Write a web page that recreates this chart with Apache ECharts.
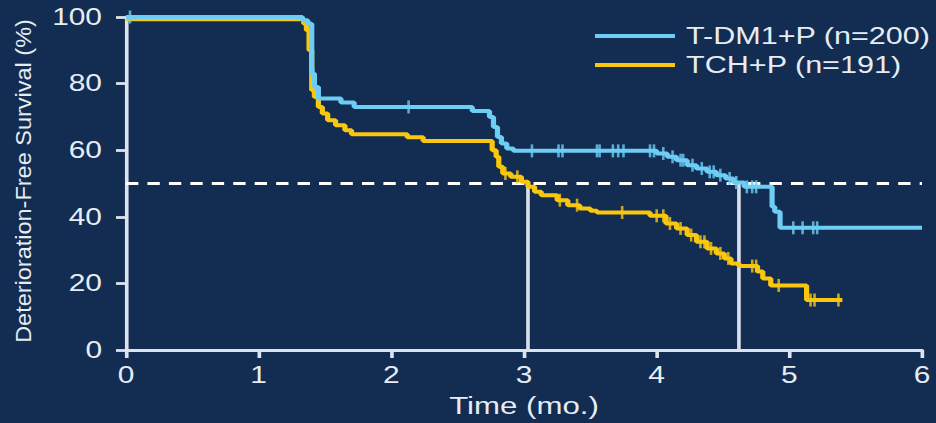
<!DOCTYPE html>
<html>
<head>
<meta charset="utf-8">
<script src="https://cdn.jsdelivr.net/npm/echarts@6/dist/echarts.min.js"></script>
<style>
html,body{margin:0;padding:0;background:#132c52;overflow:hidden;width:936px;height:423px;}
/* the reference slide is horizontally stretched; reproduce that stretch */
#chart{width:720px;height:423px;transform:scaleX(1.3);transform-origin:0 0;}
</style>
</head>
<body>
<div id="chart"></div>
<script>
// ---- data ----
const seriesNames = ['T-DM1+P (n=200)', 'TCH+P (n=191)'];
const xTickLabels = ['0','1','2','3','4','5','6'];
const yTickLabels = ['0','20','40','60','80','100'];
const xAxisTitle = 'Time (mo.)';
const yAxisTitle = 'Deterioration-Free Survival (%)';

// Kaplan-Meier steps: T-DM1+P
const blueTime = [0, 1.33, 1.37, 1.40, 1.42, 1.45, 1.62, 1.72, 2.61, 2.74, 2.77, 2.80, 2.83, 2.87, 2.92, 4.00, 4.08, 4.15, 4.23, 4.30, 4.38, 4.45, 4.52, 4.58, 4.66, 4.87, 4.89, 4.93, 6.00];
const blueSurv = [100, 99, 98, 83, 79, 75.5, 74.3, 73, 71.8, 70, 67, 64, 62, 60.5, 59.8, 59, 58, 57, 55.5, 54.5, 53.5, 52.5, 51.5, 50.3, 49, 43, 41.5, 36.7, 36.7];
const blueCensorTime = [0.03, 1.41, 2.13, 3.06, 3.26, 3.29, 3.55, 3.57, 3.67, 3.71, 3.75, 3.95, 3.98, 4.05, 4.12, 4.18, 4.20, 4.27, 4.34, 4.40, 4.43, 4.48, 4.55, 4.60, 4.68, 4.72, 4.75, 5.03, 5.10, 5.18, 5.21];
const blueCensorSurv = [100, 83, 73, 59.8, 59.8, 59.8, 59.8, 59.8, 59.8, 59.8, 59.8, 59.8, 59.8, 59, 58, 57, 57, 55.5, 54.5, 53.5, 53.5, 52.5, 51.5, 50.3, 49, 49, 49, 36.7, 36.7, 36.7, 36.7];

// Kaplan-Meier steps: TCH+P
const yellowTime = [0, 1.34, 1.36, 1.38, 1.40, 1.42, 1.45, 1.48, 1.52, 1.58, 1.65, 1.70, 2.12, 2.24, 2.76, 2.79, 2.81, 2.84, 2.90, 2.98, 3.03, 3.08, 3.13, 3.25, 3.33, 3.42, 3.50, 3.55, 3.95, 4.07, 4.15, 4.23, 4.30, 4.38, 4.45, 4.51, 4.56, 4.62, 4.76, 4.80, 4.86, 5.13, 5.40];
const yellowSurv = [99.3, 98, 96, 90, 78, 76, 73, 71, 69, 67.5, 66, 64.8, 63.9, 62.8, 60, 58, 55, 53, 52, 50.5, 49, 47.5, 46.5, 45, 43.5, 42.5, 41.8, 41.3, 40.3, 38, 36.5, 34.5, 32.5, 30.5, 29, 27.5, 26, 25.2, 23.6, 21.5, 19.4, 15, 15];
const yellowCensorTime = [2.86, 2.95, 3.27, 3.40, 3.74, 4.00, 4.05, 4.10, 4.18, 4.26, 4.33, 4.36, 4.41, 4.48, 4.54, 4.72, 4.75, 4.92, 5.16, 5.19, 5.37];
const yellowCensorSurv = [53, 52, 45, 43.5, 41.3, 40.3, 40.3, 38, 36.5, 34.5, 32.5, 32.5, 30.5, 29, 27.5, 25.2, 25.2, 19.4, 15, 15, 15];

const medianLevel = 50;
const medianTimes = [3.03, 4.62];

// ---- build ----
const SX = 1.3; // horizontal stretch of the container
const pairs = (xs, ys) => xs.map((x, i) => [x, ys[i]]);
const BLUE = '#6dcdf5';
const YELLOW = '#f9c80e';
const AXIS = '#dbe3ee';
const TEXT = '#e6ecf4';
const FONT = 'Liberation Sans, Arial, sans-serif';

const chart = echarts.init(document.getElementById('chart'), null, {renderer: 'svg'});

const refSeries = [
  {
    type: 'line', name: 'ref50', silent: true, symbol: 'none', z: 1,
    data: [[0, medianLevel], [6, medianLevel]],
    lineStyle: {color: '#ffffff', width: 2.8, type: [9.5, 7]}
  }
].concat(medianTimes.map((t, i) => ({
  type: 'line', name: 'med' + i, silent: true, symbol: 'none', z: 1,
  data: [[t, 0], [t, medianLevel]],
  lineStyle: {color: '#d9dfe9', width: 2.8}
})));

chart.setOption({
  backgroundColor: '#132c52',
  animation: false,
  grid: {left: 126 / SX, right: 14 / SX, top: 17, bottom: 71},
  legend: {
    data: seriesNames,
    orient: 'vertical',
    left: 595 / SX, top: 24,
    padding: 0,
    icon: 'rect',
    itemWidth: 80 / SX, itemHeight: 4,
    itemGap: 5,
    textStyle: {color: TEXT, fontSize: 23.5, fontFamily: FONT, lineHeight: 22, padding: [0, 0, 0, 3.5]}
  },
  graphic: [{
    type: 'text',
    x: 23 / SX, y: 181,
    rotation: Math.PI / 2,
    scaleY: 0.72,
    style: {text: yAxisTitle, fill: TEXT, font: '23.5px ' + FONT, align: 'center', verticalAlign: 'middle'}
  }],
  xAxis: {
    type: 'value', min: 0, max: 6, interval: 1,
    name: xAxisTitle, nameLocation: 'middle', nameGap: 44,
    nameTextStyle: {color: TEXT, fontSize: 24, fontFamily: FONT},
    axisLine: {lineStyle: {color: AXIS, width: 2.8}},
    axisTick: {show: true, length: 8, lineStyle: {color: AXIS, width: 2.8}},
    axisLabel: {color: TEXT, fontSize: 23, fontFamily: FONT, margin: 14,
      formatter: v => xTickLabels[Math.round(v)]},
    splitLine: {show: false}
  },
  yAxis: {
    type: 'value', min: 0, max: 100, interval: 20,
    axisLine: {show: true, lineStyle: {color: AXIS, width: 2.8}},
    axisTick: {show: true, length: 10 / SX, lineStyle: {color: AXIS, width: 2.8}},
    axisLabel: {color: TEXT, fontSize: 23, fontFamily: FONT, margin: 24 / SX,
      formatter: v => yTickLabels[Math.round(v / 20)]},
    splitLine: {show: false}
  },
  series: refSeries.concat([
    {
      type: 'line', name: seriesNames[1], step: 'end', symbol: 'none', z: 3,
      data: pairs(yellowTime, yellowSurv),
      color: YELLOW, lineStyle: {color: YELLOW, width: 4}
    },
    {
      type: 'scatter', name: 'TCH+P censored', z: 4, silent: true,
      data: pairs(yellowCensorTime, yellowCensorSurv),
      symbol: 'rect', symbolSize: [2, 13], itemStyle: {color: YELLOW}
    },
    {
      type: 'line', name: seriesNames[0], step: 'end', symbol: 'none', z: 5,
      data: pairs(blueTime, blueSurv),
      color: BLUE, lineStyle: {color: BLUE, width: 4}
    },
    {
      type: 'scatter', name: 'T-DM1+P censored', z: 6, silent: true,
      data: pairs(blueCensorTime, blueCensorSurv),
      symbol: 'rect', symbolSize: [2, 13], itemStyle: {color: BLUE}
    }
  ])
});
</script>
</body>
</html>
